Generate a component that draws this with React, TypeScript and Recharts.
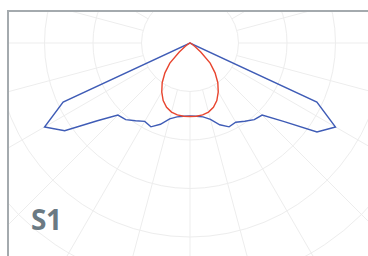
import React from 'react';
import { RadarChart, Radar, PolarGrid, PolarAngleAxis, PolarRadiusAxis } from 'recharts';

// Angles measured from nadir (0 = straight down), step 5 degrees
const angles: number[] = [
  0, 5, 10, 15, 20, 25, 30, 35, 40, 45, 50, 55, 60, 65, 70, 75, 80, 85,
  90, 95, 100, 105, 110, 115, 120, 125, 130, 135, 140, 145, 150, 155, 160, 165, 170, 175,
  180, 185, 190, 195, 200, 205, 210, 215, 220, 225, 230, 235, 240, 245, 250, 255, 260, 265,
  270, 275, 280, 285, 290, 295, 300, 305, 310, 315, 320, 325, 330, 335, 340, 345, 350, 355,
];

// Blue (wide batwing) intensity values
const blueValues: number[] = [
  73, 73.5, 75, 79, 87, 92.5, 91.5, 95.5, 100, 102, 122, 155, 168, 140, 0, 0, 0, 0,
  0, 0, 0, 0, 0, 0, 0, 0, 0, 0, 0, 0, 0, 0, 0, 0, 0, 0,
  0, 0, 0, 0, 0, 0, 0, 0, 0, 0, 0, 0, 0, 0, 0, 0, 0, 0,
  0, 0, 0, 0, 0, 140, 168, 153, 121, 102, 100, 95, 90.5, 92.5, 86.5, 78.5, 75, 73.5,
];

// Red (narrow) intensity values
const redValues: number[] = [
  73.5, 73.5, 73, 71.5, 68.5, 63.5, 56.5, 48.5, 39, 28.5, 14, 6, 2, 0.5, 0, 0, 0, 0,
  0, 0, 0, 0, 0, 0, 0, 0, 0, 0, 0, 0, 0, 0, 0, 0, 0, 0,
  0, 0, 0, 0, 0, 0, 0, 0, 0, 0, 0, 0, 0, 0, 0, 0, 0, 0,
  0, 0, 0, 0, 0, 0.5, 2, 6, 14, 28.5, 39, 48.5, 56.5, 63.5, 68.5, 71.5, 73, 73.5,
];

const gridAngles: number[] = [0, 15, 30, 45, 60, 75, 90, 105, 120, 135, 150, 165, 180, 195, 210, 225, 240, 255, 270, 285, 300, 315, 330, 345];
const gridRadii: number[] = [48.5, 97, 145.5, 194, 242.5, 291];

const data = angles.map((a, i) => ({ angle: a, blue: blueValues[i], red: redValues[i] }));

export default function App() {
  return (
    <div style={{ position: 'absolute', left: 0, top: 0, width: 368, height: 256, overflow: 'hidden', background: '#fff' }}>
      <div
        style={{
          position: 'absolute',
          left: 7,
          top: 10,
          width: 420,
          height: 320,
          borderTop: '2px solid #a4aaae',
          borderLeft: '2px solid #a4aaae',
          overflow: 'hidden',
          boxSizing: 'border-box',
        }}
      >
        <div style={{ position: 'absolute', left: 0, top: 0 }}>
          <RadarChart
            width={400}
            height={300}
            data={data}
            cx={181}
            cy={31}
            innerRadius={0}
            outerRadius={300}
            startAngle={-90}
            endAngle={270}
            margin={{ top: 0, right: 0, bottom: 0, left: 0 }}
          >
            <PolarGrid
              gridType="circle"
              radialLines={false}
              polarAngles={gridAngles}
              polarRadius={gridRadii}
              stroke="#ededed"
              strokeWidth={1}
            />
            <PolarGrid
              gridType="circle"
              radialLines={true}
              polarAngles={gridAngles}
              polarRadius={[]}
              stroke="#ededed"
              strokeWidth={1}
              strokeDasharray="0 48.5 1000"
            />
            <PolarAngleAxis dataKey="angle" type="number" domain={[0, 360]} tick={false} axisLine={false} tickLine={false} />
            <PolarRadiusAxis domain={[0, 300]} tick={false} axisLine={false} tickLine={false} />
            <Radar dataKey="blue" stroke="#3f5cb6" strokeWidth={1.4} fill="none" fillOpacity={0} dot={false} isAnimationActive={false} />
            <Radar dataKey="red" stroke="#e8452f" strokeWidth={1.4} fill="none" fillOpacity={0} dot={false} isAnimationActive={false} />
          </RadarChart>
        </div>
      </div>
      <div
        style={{
          position: 'absolute',
          left: 31,
          top: 205,
          fontFamily: '"Open Sans", sans-serif',
          fontWeight: 700,
          fontSize: 28,
          lineHeight: '28px',
          letterSpacing: -0.5,
          color: '#6b7a83',
        }}
      >
        S1
      </div>
    </div>
  );
}
